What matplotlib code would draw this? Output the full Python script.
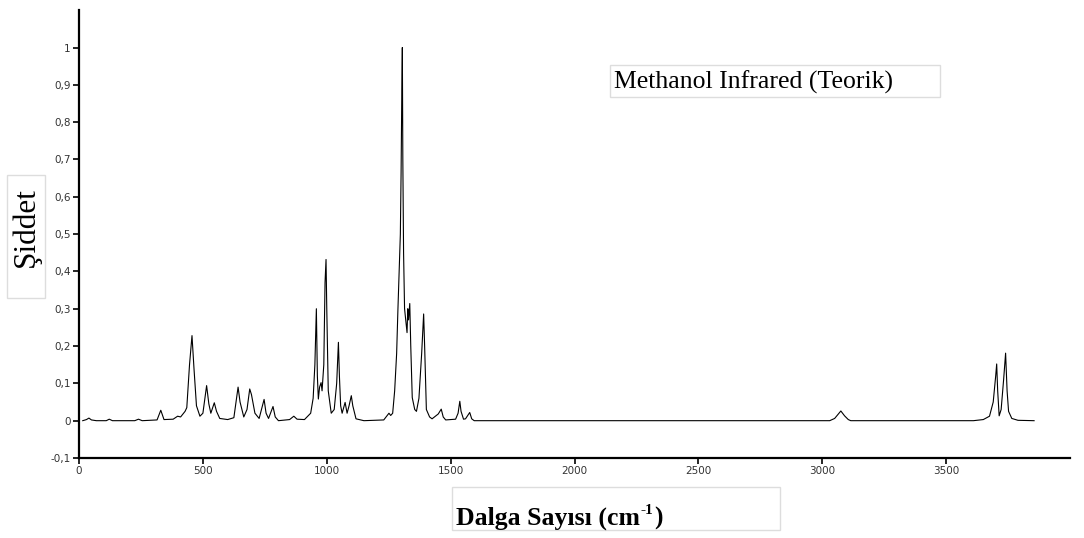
import matplotlib
matplotlib.use("Agg")
import matplotlib.pyplot as plt
from matplotlib.patches import Rectangle
from matplotlib.ticker import FuncFormatter

# ── Spectrum (wavenumber cm-1, relative intensity) ───────────────────────────
wavenumber = [
    15, 30, 40, 50, 70, 110, 122, 135, 225, 240, 255, 315, 330, 343, 380, 398,
    410, 428, 435, 446, 456, 464, 474, 488, 500, 515, 524, 532, 546, 555, 568,
    600, 625, 642, 650, 665, 678, 689, 696, 710, 727, 747, 755, 765, 783, 792,
    805, 850, 867, 880, 910, 935, 945, 952, 958, 962, 966, 971, 977, 981, 988,
    993, 997, 1000, 1006, 1018, 1030, 1040, 1047, 1051, 1056, 1062, 1074, 1082,
    1090, 1099, 1105, 1118, 1150, 1230, 1245, 1251, 1258, 1266, 1274, 1282,
    1287, 1293, 1297, 1300, 1303, 1305, 1307, 1310, 1314, 1320, 1324, 1327,
    1330, 1335, 1339, 1345, 1355, 1362, 1372, 1383, 1391, 1395, 1402, 1415,
    1425, 1450, 1462, 1470, 1480, 1520, 1530, 1537, 1542, 1552, 1560, 1577,
    1585, 1595, 3030, 3050, 3075, 3090, 3105, 3115, 3610, 3650, 3675, 3690,
    3700, 3704, 3708, 3714, 3722, 3732, 3740, 3746, 3752, 3765, 3790, 3855,
]
intensity = [
    0.0, 0.003, 0.007, 0.002, 0.0, 0.0, 0.004, 0.0, 0.0, 0.004, 0.0, 0.002,
    0.028, 0.003, 0.004, 0.012, 0.01, 0.025, 0.035, 0.15, 0.228, 0.14, 0.04,
    0.012, 0.02, 0.094, 0.045, 0.02, 0.048, 0.025, 0.006, 0.003, 0.008, 0.09,
    0.05, 0.01, 0.03, 0.085, 0.07, 0.02, 0.006, 0.057, 0.02, 0.006, 0.038,
    0.01, 0.0, 0.003, 0.012, 0.004, 0.003, 0.02, 0.06, 0.15, 0.30, 0.12, 0.058,
    0.09, 0.102, 0.08, 0.15, 0.37, 0.432, 0.3, 0.08, 0.02, 0.03, 0.10, 0.21,
    0.12, 0.04, 0.02, 0.049, 0.02, 0.04, 0.067, 0.04, 0.005, 0.0, 0.002, 0.015,
    0.02, 0.014, 0.02, 0.08, 0.18, 0.294, 0.42, 0.50, 0.665, 0.888, 1.0, 0.7,
    0.45, 0.30, 0.26, 0.236, 0.30, 0.27, 0.314, 0.2, 0.062, 0.03, 0.025, 0.06,
    0.18, 0.286, 0.2, 0.03, 0.01, 0.005, 0.018, 0.031, 0.01, 0.002, 0.004,
    0.02, 0.052, 0.025, 0.004, 0.005, 0.022, 0.005, 0.0, 0.0, 0.006, 0.026,
    0.013, 0.003, 0.0, 0.0, 0.003, 0.012, 0.05, 0.12, 0.152, 0.08, 0.013, 0.03,
    0.11, 0.181, 0.08, 0.025, 0.006, 0.001, 0.0,
]

x_ticks = [0, 500, 1000, 1500, 2000, 2500, 3000, 3500]
y_ticks = [-0.1, 0.0, 0.1, 0.2, 0.3, 0.4, 0.5, 0.6, 0.7, 0.8, 0.9, 1.0]

TITLE = "Methanol Infrared (Teorik)"
X_LABEL_PARTS = ["Dalga Sayısı (cm", "-1", ")"]
Y_LABEL = "Şiddet"
SERIF = "Liberation Serif"

fig = plt.figure(figsize=(10.84, 5.38), dpi=100, facecolor="white")
ax = fig.add_axes([0.0729, 0.1487, 0.9142, 0.8323])

ax.plot(wavenumber, intensity, color="black", lw=0.8)

ax.set_xlim(0, 4000)
ax.set_ylim(-0.1, 1.1)
ax.set_xticks(x_ticks)
ax.set_yticks(y_ticks)


def comma_fmt(v, pos):
    s = f"{v:.1f}".rstrip("0").rstrip(".")
    if s in ("-0", ""):
        s = "0"
    return s.replace(".", ",")


ax.yaxis.set_major_formatter(FuncFormatter(comma_fmt))
ax.tick_params(direction="out", length=4, width=1.2, labelsize=7.5,
               labelcolor="#333333", pad=2)

for side in ("top", "right"):
    ax.spines[side].set_visible(False)
for side in ("left", "bottom"):
    ax.spines[side].set_linewidth(1.6)

# ── Text boxes ───────────────────────────────────────────────────────────────
W, H = 1084, 538


def box(x0, y0, x1, y1):
    fig.patches.append(Rectangle((x0 / W, 1 - y1 / H), (x1 - x0) / W, (y1 - y0) / H,
                                 transform=fig.transFigure, facecolor="white",
                                 edgecolor="#dddddd", lw=1.0, zorder=0))


box(610, 65, 940, 97)
fig.text(614 / W, 1 - 82 / H, TITLE, family=SERIF, fontsize=18.5,
         ha="left", va="center")

box(7, 175, 45, 298)
fig.text(26 / W, 1 - 227 / H, Y_LABEL, family=SERIF, fontsize=22.5,
         rotation=90, ha="center", va="center")

box(452, 487, 780, 530)
renderer = fig.canvas.get_renderer()
base_y = 1 - 525 / H
t1 = fig.text(456 / W, base_y, X_LABEL_PARTS[0], family=SERIF,
              fontweight="bold", fontsize=18.5, ha="left", va="baseline")
x_end = t1.get_window_extent(renderer).x1 / W
t2 = fig.text(x_end + 1 / W, base_y + 11 / H, X_LABEL_PARTS[1], family=SERIF,
              fontweight="bold", fontsize=11, ha="left", va="baseline")
x_end = t2.get_window_extent(renderer).x1 / W
fig.text(x_end + 1 / W, base_y, X_LABEL_PARTS[2], family=SERIF,
         fontweight="bold", fontsize=18.5, ha="left", va="baseline")

fig.savefig("out.png", dpi=100, facecolor="white")
